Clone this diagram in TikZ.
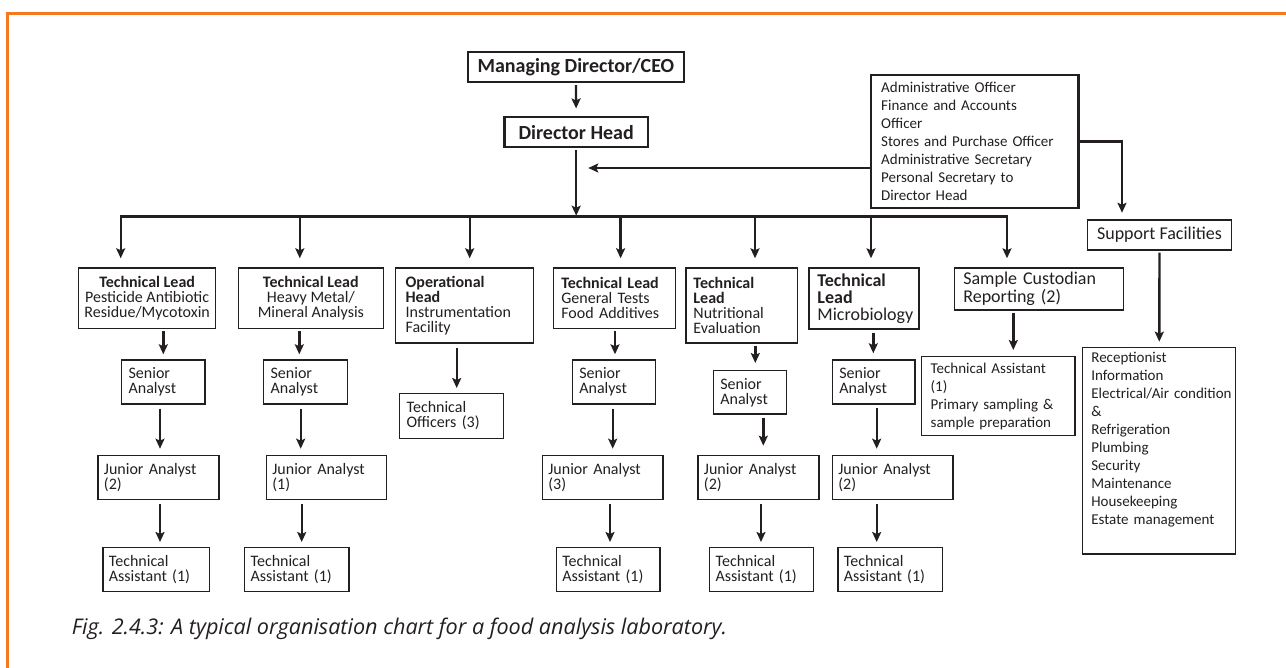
\documentclass[tikz,border=0pt]{standalone}
\usepackage{fontspec}
\setmainfont{Carlito}
\newfontfamily\capfont{Open Sans}
\usetikzlibrary{arrows.meta}
\definecolor{ink}{HTML}{231F20}
\definecolor{rim}{HTML}{F47920}
\tikzset{
 link/.style={draw=ink,line width=2.4pt},
 feed/.style={link,-{Stealth[length=10pt,width=9pt,inset=2pt]},shorten <=2pt,shorten >=5pt},
 drop/.style={feed,shorten <=0pt,shorten >=9pt},
 post/.style={draw=ink,text=ink,line width=1.3pt,anchor=north west,inner xsep=2pt,inner ysep=0pt,align=left,font=\fontsize{16}{15}\selectfont},
 chief/.style={post,line width=2.4pt,align=center,font=\bfseries\fontsize{20}{24}\selectfont},
 roster/.style={post,font=\fontsize{15}{18}\selectfont},
 large/.style={post,font=\fontsize{18}{17.6}\selectfont},
 indent/.style={execute at begin node={\leftskip=#1}}
}
\begin{document}
\begin{tikzpicture}[x=1pt,y=-1pt]
\path[use as bounding box] (0,0) rectangle (1286,668);
\draw[rim,line width=3pt] (1286,14) -- (7.5,14) -- (7.5,668);
\node[chief,minimum width=216pt,minimum height=29.7pt] (ceo) at (466.7,51) {Managing Director/CEO};
\node[chief,minimum width=143.4pt,minimum height=30pt] (head) at (503.3,116) {Director Head};
\node[roster,line width=2.4pt,minimum width=207.4pt,minimum height=132.7pt,text width=203.4pt,indent=8pt] (admin) at (870,74) {Administrative Officer\\Finance and Accounts\\Officer\\Stores and Purchase Officer\\Administrative Secretary\\Personal Secretary to\\Director Head};
\node[large,align=center,minimum width=143.8pt,minimum height=30pt] (support) at (1087,219.3) {Support Facilities};
\node[roster,minimum width=153.3pt,minimum height=206.6pt,text width=149.3pt,indent=7pt] (services) at (1081.7,346.7) {Receptionist\\Information\\Electrical/Air condition\\\&\\Refrigeration\\Plumbing\\Security\\Maintenance\\Housekeeping\\Estate management\\[6pt]~};
\node[post,align=center,minimum width=137pt,minimum height=60.7pt] (leadA) at (78,267.3) {\textbf{Technical Lead}\\Pesticide Antibiotic\\Residue/Mycotoxin};
\node[post,align=center,minimum width=145pt,minimum height=60.7pt] (leadB) at (237.7,267.3) {\textbf{Technical Lead}\\Heavy Metal/\\Mineral Analysis};
\node[post,minimum width=138pt,minimum height=75pt,text width=134pt,indent=8pt] (leadC) at (395,267.3) {\textbf{Operational}\\\textbf{Head}\\Instrumentation\\Facility};
\node[post,minimum width=122.3pt,minimum height=60.7pt,text width=118.3pt,indent=6pt] (leadD) at (552.7,267.3) {\textbf{Technical Lead}\\General Tests\\Food Additives};
\node[post,minimum width=111.4pt,minimum height=75pt,text width=107.4pt,indent=5.5pt] (leadE) at (685.3,267.3) {\textbf{Technical}\\\textbf{Lead}\\Nutritional\\Evaluation};
\node[post,font=\fontsize{18}{17}\selectfont,minimum width=110pt,minimum height=61pt,text width=106pt,indent=6.5pt] (leadF) at (808.3,267.3) {\textbf{Technical}\\\textbf{Lead}\\Microbiology};
\node[large,minimum width=168.7pt,minimum height=42pt,text width=164.7pt,indent=6.7pt] (custodian) at (954,267.3) {Sample Custodian\\Reporting (2)};
\node[roster,minimum width=153.6pt,minimum height=79pt,text width=149.6pt,indent=7.3pt] (sampleta) at (920.7,356) {Technical Assistant\\(1)\\Primary sampling \&\\sample preparation};
\node[post,minimum width=104pt,minimum height=44.7pt,text width=100pt,indent=5pt] (officersC) at (399,393) {Technical\\Officers (3)};
\node[post,minimum width=83.3pt,minimum height=44pt,text width=79.3pt,indent=5pt] (seniorA) at (121,359.3) {Senior\\Analyst};
\node[post,minimum width=83.7pt,minimum height=44pt,text width=79.7pt,indent=5pt] (seniorB) at (263,359.3) {Senior\\Analyst};
\node[post,minimum width=83.3pt,minimum height=44pt,text width=79.3pt,indent=5pt] (seniorD) at (571.7,359.3) {Senior\\Analyst};
\node[post,minimum width=73.3pt,minimum height=43.3pt,text width=69.3pt,indent=5pt] (seniorE) at (712.7,370) {Senior\\Analyst};
\node[post,minimum width=82.6pt,minimum height=44pt,text width=78.6pt,indent=5pt] (seniorF) at (831.7,359.3) {Senior\\Analyst};
\node[post,minimum width=121pt,minimum height=44pt,text width=117pt,indent=4pt] (juniorA) at (97.3,454.7) {Junior Analyst\\(2)};
\node[post,minimum width=120.3pt,minimum height=44pt,text width=116.3pt,indent=4pt] (juniorB) at (265.7,454.7) {Junior Analyst\\(1)};
\node[post,minimum width=120.6pt,minimum height=44pt,text width=116.6pt,indent=4pt] (juniorD) at (541.7,454.7) {Junior Analyst\\(3)};
\node[post,minimum width=121pt,minimum height=44pt,text width=117pt,indent=4pt] (juniorE) at (697.3,454.7) {Junior Analyst\\(2)};
\node[post,minimum width=120.6pt,minimum height=44pt,text width=116.6pt,indent=4pt] (juniorF) at (831.7,454.7) {Junior Analyst\\(2)};
\node[post,minimum width=106.4pt,minimum height=44pt,text width=102.4pt,indent=4pt] (assistA) at (102.3,547) {Technical\\Assistant (1)};
\node[post,minimum width=104.3pt,minimum height=44pt,text width=100.3pt,indent=4pt] (assistB) at (244,547) {Technical\\Assistant (1)};
\node[post,minimum width=103.6pt,minimum height=44pt,text width=99.6pt,indent=4pt] (assistD) at (555.7,547) {Technical\\Assistant (1)};
\node[post,minimum width=103.7pt,minimum height=44pt,text width=99.7pt,indent=4pt] (assistE) at (709,547) {Technical\\Assistant (1)};
\node[post,minimum width=104.4pt,minimum height=44pt,text width=100.4pt,indent=4pt] (assistF) at (837.3,547) {Technical\\Assistant (1)};
\node[anchor=base west,inner sep=0pt,text=ink,font=\capfont\itshape\fontsize{21.6}{24}\selectfont] (caption) at (71.7,634) {Fig. 2.4.3: A typical organisation chart for a food analysis laboratory.};
\coordinate (busL) at (120.7,216.7);
\coordinate (busB) at (299.8,216.7);
\coordinate (busC) at (469.7,216.7);
\coordinate (busD) at (620.6,216.7);
\coordinate (busE) at (755,216.7);
\coordinate (busF) at (871,216.7);
\coordinate (busR) at (1007,216.7);
\coordinate (adminTip) at (588.3,168);
\coordinate (supDrop) at (1122,219.3);
\draw[feed,shorten >=7.5pt] (ceo) -- (head);
\draw[feed,shorten >=1pt] (head) -- (head |- busL);
\draw[drop] (head |- busL) -- (busL) -- (busL |- leadA.north);
\draw[drop] (head |- busL) -- (busR) -- (busR |- custodian.north);
\draw[drop] (busB) -- (busB |- leadB.north);
\draw[drop] (busC) -- (busC |- leadC.north);
\draw[drop] (busD) -- (busD |- leadD.north);
\draw[drop] (busE) -- (busE |- leadE.north);
\draw[drop] (busF) -- (busF |- leadF.north);
\draw[feed,shorten <=0pt,shorten >=0pt] (admin.west |- adminTip) -- (adminTip);
\draw[feed,shorten <=0pt,shorten >=6.5pt] (admin.east) -| (supDrop);
\draw[feed] (support) -- (services);
\draw[feed,shorten >=6pt] (custodian.south -| 1013.3,0) -- (sampleta.north -| 1013.3,0);
\draw[feed] (leadA.south -| 163.3,0) -- (seniorA.north -| 163.3,0);
\draw[feed,shorten <=4pt,shorten >=6pt] (seniorA.south -| 160,0) -- (juniorA.north -| 160,0);
\draw[feed,shorten <=4pt] (juniorA.south -| 160,0) -- (assistA.north -| 160,0);
\draw[feed] (leadB.south -| 299.3,0) -- (seniorB.north -| 299.3,0);
\draw[feed,shorten <=4pt,shorten >=6pt] (seniorB.south -| 300.7,0) -- (juniorB.north -| 300.7,0);
\draw[feed,shorten <=4pt] (juniorB.south -| 301.7,0) -- (assistB.north -| 301.7,0);
\draw[feed,shorten <=4pt] (leadC.south -| 456.7,0) -- (officersC.north -| 456.7,0);
\draw[feed] (leadD.south -| 615,0) -- (seniorD.north -| 615,0);
\draw[feed,shorten <=4pt,shorten >=6pt] (seniorD.south -| 612.7,0) -- (juniorD.north -| 612.7,0);
\draw[feed,shorten <=4pt] (juniorD.south -| 610,0) -- (assistD.north -| 610,0);
\draw[feed,shorten >=7pt] (leadE.south -| 755.3,0) -- (seniorE.north -| 755.3,0);
\draw[feed,shorten <=3pt,shorten >=9pt] (seniorE.south -| 763.3,0) -- (juniorE.north -| 763.3,0);
\draw[feed,shorten <=4pt] (juniorE.south -| 761,0) -- (assistE.north -| 761,0);
\draw[feed,shorten <=3pt,shorten >=6pt] (leadF.south -| 873.3,0) -- (seniorF.north -| 873.3,0);
\draw[feed,shorten <=3pt,shorten >=6pt] (seniorF.south -| 876.7,0) -- (juniorF.north -| 876.7,0);
\draw[feed,shorten <=4pt] (juniorF.south -| 876.7,0) -- (assistF.north -| 876.7,0);
\end{tikzpicture}
\end{document}
